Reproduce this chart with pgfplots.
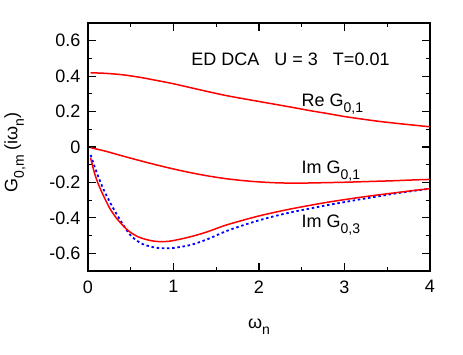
\documentclass[border=0pt]{standalone}
\usepackage{fontspec}
\setmainfont{Liberation Sans}
\usepackage{pgfplots}
\pgfplotsset{compat=1.18}
\newcommand\sub[1]{\raisebox{-6.5pt}{\fontsize{14}{16}\selectfont #1}}
\begin{document}
\begin{tikzpicture}[font=\fontsize{18}{21.6}\selectfont]
\useasboundingbox (-88pt,-83pt) rectangle (375pt,271pt);
\begin{axis}[
  scale only axis, width=342pt, height=248pt,
  xmin=0, xmax=4, ymin=-0.7, ymax=0.7,
  xtick={0,1,2,3,4}, xticklabels={0,1,2,3,4},
  ytick={-0.6,-0.4,-0.2,0,0.2,0.4,0.6},
  yticklabels={-0.6,-0.4,-0.2,0,0.2,0.4,0.6},
  minor x tick num=1, minor y tick num=1,
  tick align=inside, major tick length=8pt, minor tick length=4pt,
  axis line style={line width=1.3pt, black},
  tick style={line width=1.2pt, black},
  xticklabel style={yshift=-6pt},
  yticklabel style={xshift=-4pt},
  xlabel={ω\sub{n}},
  ylabel={G\sub{0,m} (iω\sub{n})},
  xlabel style={at={(axis description cs:0.5,-0.23)}, anchor=base},
  ylabel style={at={(axis description cs:-0.2135,0.478)}, anchor=center},
]
% Im G_{0,3} (blue dotted)
\addplot[blue, line width=1.8pt, dash pattern=on 2.5pt off 2.7pt, smooth] coordinates {
(0.031,-0.045) (0.074,-0.107) (0.132,-0.182) (0.19,-0.248) (0.269,-0.323)
(0.347,-0.389) (0.444,-0.464) (0.522,-0.510) (0.64,-0.548) (0.8,-0.569)
(0.95,-0.571) (1.0,-0.570) (1.2,-0.553) (1.4,-0.520) (1.6,-0.478) (1.8,-0.444)
(2.0,-0.414) (2.2,-0.388) (2.4,-0.366) (2.6,-0.347) (2.8,-0.328) (3.0,-0.311)
(3.2,-0.294) (3.4,-0.278) (3.6,-0.262) (3.8,-0.248) (4.0,-0.235)};
% Im G_{0,3} (red)
\addplot[red, line width=1.5pt, smooth] coordinates {
(0.031,-0.062) (0.074,-0.144) (0.113,-0.200) (0.172,-0.266) (0.25,-0.342)
(0.327,-0.398) (0.405,-0.441) (0.483,-0.477) (0.6,-0.510) (0.75,-0.530)
(0.85,-0.534) (0.95,-0.532) (1.1,-0.518) (1.25,-0.500) (1.4,-0.478) (1.6,-0.443)
(1.8,-0.415) (2.0,-0.389) (2.2,-0.367) (2.4,-0.347) (2.6,-0.329) (2.8,-0.312)
(3.0,-0.297) (3.2,-0.283) (3.4,-0.270) (3.6,-0.258) (3.8,-0.246) (4.0,-0.235)};
% Re G_{0,1}
\addplot[red, line width=1.5pt, smooth] coordinates {
(0.031,0.419) (0.2,0.416) (0.4,0.408) (0.6,0.394) (0.8,0.376) (1.0,0.357)
(1.2,0.335) (1.4,0.313) (1.6,0.292) (1.8,0.274) (2.0,0.257) (2.2,0.240)
(2.4,0.223) (2.6,0.205) (2.8,0.189) (3.0,0.172) (3.2,0.158) (3.4,0.145)
(3.6,0.134) (3.8,0.124) (4.0,0.114)};
% Im G_{0,1}
\addplot[red, line width=1.5pt, smooth] coordinates {
(0.031,-0.004) (0.2,-0.023) (0.4,-0.050) (0.6,-0.076) (0.8,-0.101) (1.0,-0.124)
(1.2,-0.145) (1.4,-0.163) (1.6,-0.178) (1.8,-0.189) (2.0,-0.197) (2.2,-0.202)
(2.4,-0.204) (2.6,-0.203) (2.8,-0.201) (3.0,-0.199) (3.2,-0.196) (3.4,-0.193)
(3.6,-0.190) (3.8,-0.186) (4.0,-0.183)};
\node[anchor=base west, inner sep=0pt] at (axis cs:1.208,0.460) {ED DCA~~~U = 3~~~T=0.01};
\node[anchor=base west, inner sep=0pt] at (axis cs:2.497,0.231) {Re G\sub{0,1}};
\node[anchor=base west, inner sep=0pt] at (axis cs:2.497,-0.148) {Im G\sub{0,1}};
\node[anchor=base west, inner sep=0pt] at (axis cs:2.497,-0.454) {Im G\sub{0,3}};
\end{axis}
\end{tikzpicture}
\end{document}
